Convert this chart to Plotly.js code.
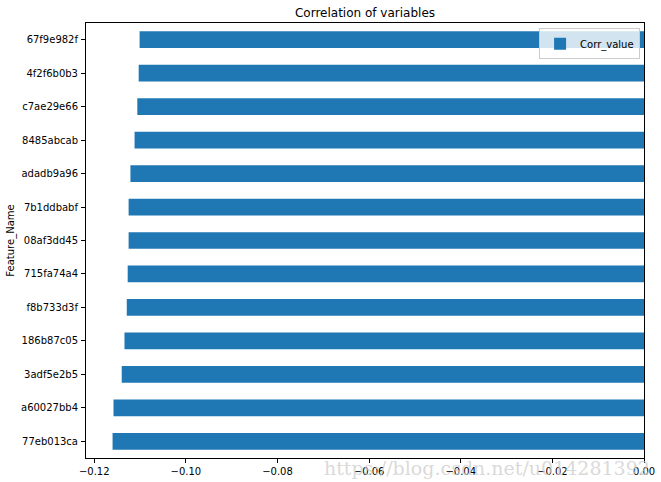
<!DOCTYPE html>
<html>
<head>
<meta charset="utf-8">
<script src="https://cdn.plot.ly/plotly-3.0.1.min.js"></script>
<style>
  html, body { margin: 0; padding: 0; background: #fff; }
  #chart { width: 661px; height: 482px; }
</style>
</head>
<body>
<div id="chart"></div>
<script>
// top to bottom, as in the picture
const featureNames = [
  '67f9e982f','4f2f6b0b3','c7ae29e66','8485abcab','adadb9a96','7b1ddbabf',
  '08af3dd45','715fa74a4','f8b733d3f','186b87c05','3adf5e2b5','a60027bb4','77eb013ca'
];
const corrValues = [
  -0.1101, -0.1103, -0.1106, -0.1112, -0.1121, -0.1125,
  -0.1125, -0.1127, -0.1129, -0.1134, -0.1140, -0.1158, -0.1160
];
const xTicks = [-0.12, -0.10, -0.08, -0.06, -0.04, -0.02, 0.00];
const xTickText = ['\u22120.12','\u22120.10','\u22120.08','\u22120.06','\u22120.04','\u22120.02','0.00'];

const FONT = 'DejaVu Sans, sans-serif';

Plotly.newPlot('chart', [{
  type: 'bar',
  orientation: 'h',
  name: 'Corr_value',
  x: corrValues,
  y: featureNames,
  width: 0.5,
  marker: { color: '#1f77b4', line: { width: 0 } },
  showlegend: true,
}], {
  width: 661,
  height: 482,
  paper_bgcolor: '#fff',
  plot_bgcolor: '#fff',
  font: { family: FONT, size: 10, color: '#000' },
  margin: { l: 86, r: 17, t: 23, b: 24 },
  title: {
    text: 'Correlation of variables',
    font: { family: FONT, size: 12, color: '#000' },
    x: 0.5, xref: 'paper', xanchor: 'center',
    y: 1, yref: 'paper', yanchor: 'bottom', pad: { b: 6 },
  },
  xaxis: {
    range: [-0.1218, 0],
    tickvals: xTicks,
    ticktext: xTickText,
    ticks: 'outside', ticklen: 4, tickcolor: '#000', tickwidth: 1,
    showgrid: false, zeroline: false,
    showline: true, linecolor: '#000', linewidth: 1, mirror: true,
    tickfont: { family: FONT, size: 10, color: '#000' },
  },
  yaxis: {
    type: 'category',
    categoryorder: 'array',
    categoryarray: featureNames,
    range: [12.5, -0.5],
    ticks: 'outside', ticklen: 4, tickcolor: '#000', tickwidth: 1,
    ticklabelstandoff: 1,
    showgrid: false, zeroline: false,
    showline: true, linecolor: '#000', linewidth: 1, mirror: true,
    tickfont: { family: FONT, size: 10, color: '#000' },
    title: { text: 'Feature_Name', font: { family: FONT, size: 10, color: '#000' }, standoff: 4 },
  },
  legend: {
    x: 0.993, xanchor: 'right', y: 0.988, yanchor: 'top',
    itemwidth: 30,
    bgcolor: 'rgba(255,255,255,0.8)',
    bordercolor: '#cccccc', borderwidth: 1,
    font: { family: FONT, size: 10, color: '#000' },
  },
  annotations: [{
    text: 'https://blog.csdn.net/u014281392',
    xref: 'paper', yref: 'paper',
    x: 1.015, y: -0.022, xanchor: 'right', yanchor: 'middle',
    showarrow: false,
    font: { family: 'DejaVu Serif, Liberation Serif, serif', size: 19, color: 'rgba(205,205,205,0.75)' },
  }],
  bargap: 0.5,
}, { displayModeBar: false });
</script>
</body>
</html>
